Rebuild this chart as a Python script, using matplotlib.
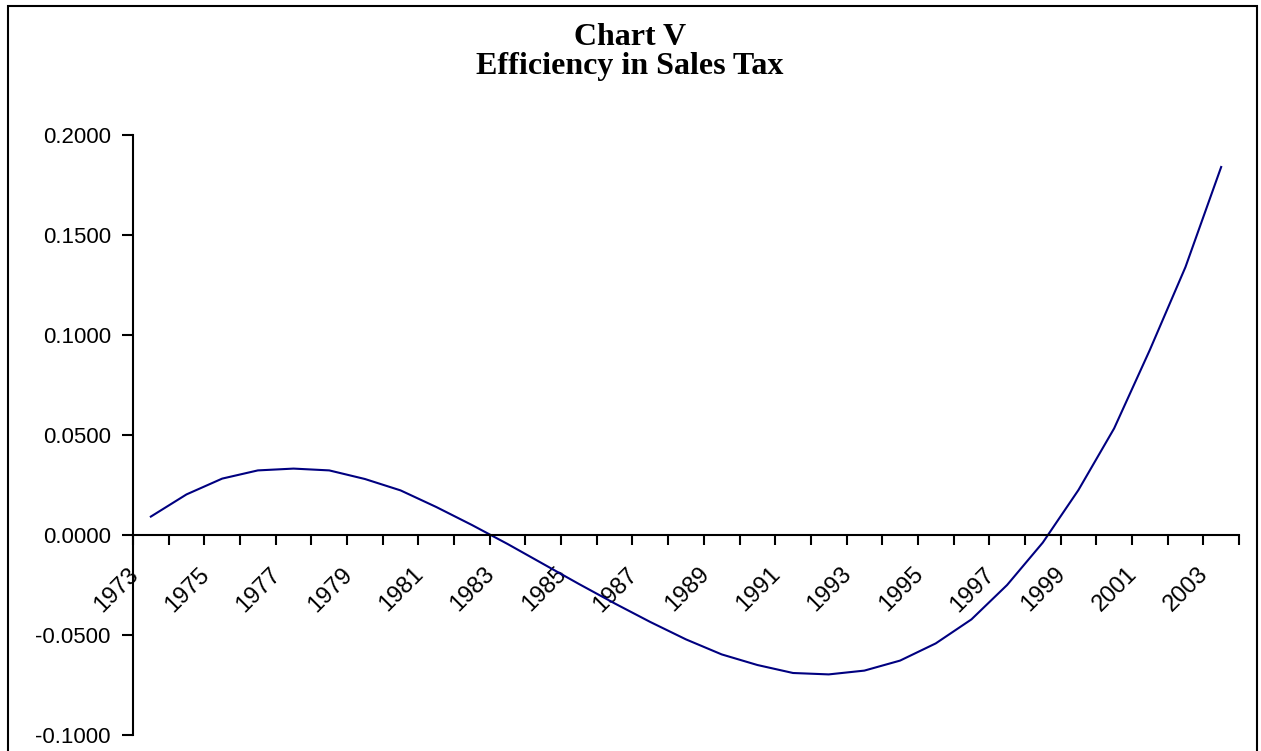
import matplotlib
matplotlib.use("Agg")
import matplotlib.pyplot as plt
from matplotlib.patches import Rectangle
import matplotlib.transforms as mtransforms
import numpy as np

years = list(range(1973, 2004))
values = [0.0092, 0.0203, 0.0282, 0.0323, 0.0332, 0.0323, 0.0280, 0.0223, 0.0140, 0.0050,
          -0.0045, -0.0145, -0.0245, -0.0342, -0.0435, -0.0522, -0.0597, -0.0650, -0.0690,
          -0.0697, -0.0678, -0.0628, -0.0542, -0.0422, -0.0250, -0.0038, 0.0225, 0.0533,
          0.0925, 0.1340, 0.1840]
y_ticks = [-0.10, -0.05, 0.0, 0.05, 0.10, 0.15, 0.20]
title_lines = ["Chart V", "Efficiency in Sales Tax"]

W, H = 1261, 751
fig = plt.figure(figsize=(W / 100, H / 100), dpi=100)
fig.patch.set_facecolor("white")

# outer chart border
fig.patches.append(Rectangle((8 / W, -0.01), (1257 - 8) / W, (H - 6) / H + 0.01,
                             transform=fig.transFigure, fill=False,
                             edgecolor="black", linewidth=1.5))

left, right, top, bottom = 133, 1239, 135, 735
ax = fig.add_axes([left / W, (H - bottom) / H, (right - left) / W, (bottom - top) / H])

x = np.arange(len(years))
ax.plot(x, values, color="#000080", linewidth=1.5)

ax.set_xlim(-0.5, len(years) - 0.5)
ax.set_ylim(-0.1, 0.2)

ax.spines["top"].set_visible(False)
ax.spines["right"].set_visible(False)
ax.spines["left"].set_linewidth(1.5)
ax.spines["bottom"].set_position(("data", 0))
ax.spines["bottom"].set_linewidth(1.5)

ax.set_yticks(y_ticks)
ax.set_yticklabels([f"{v:.4f}" for v in y_ticks], fontfamily="Liberation Sans", fontsize=16)
ax.tick_params(axis="y", direction="out", length=8, width=1.5, pad=8)

ax.set_xticks(x[::2])
ax.set_xticklabels([str(y) for y in years[::2]], fontfamily="Liberation Sans", fontsize=17,
                   rotation=45, ha="right", va="center", rotation_mode="anchor")
ax.set_xticks(np.arange(len(years) + 1) - 0.5, minor=True)
ax.tick_params(axis="x", which="major", length=0, pad=26)
ax.tick_params(axis="x", which="minor", direction="out", length=7, width=1.5)

offset = mtransforms.ScaledTranslation(-16 / 100, 0, fig.dpi_scale_trans)
for lbl in ax.get_xticklabels():
    lbl.set_transform(lbl.get_transform() + offset)

fig.text(630 / W, 1 - 52 / H, "\n".join(title_lines), ha="center", va="center",
         multialignment="center", linespacing=0.97,
         fontfamily="Liberation Serif", fontweight="bold", fontsize=23)

fig.savefig("out.png", dpi=100)
